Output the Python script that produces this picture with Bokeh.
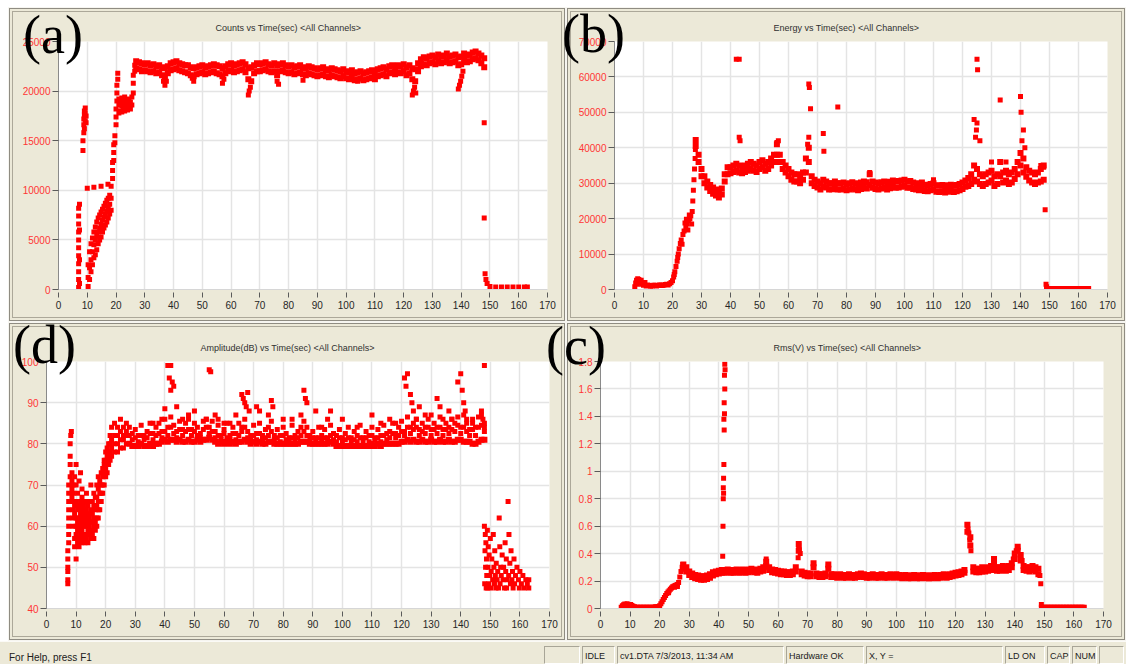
from bokeh.plotting import figure
from bokeh.models import FixedTicker, Div, Spacer, Range1d
from bokeh.layouts import row, column
from bokeh.embed import file_html
from bokeh.resources import INLINE

# ---------------------------------------------------------------- shared
time_ticks = [0, 10, 20, 30, 40, 50, 60, 70, 80, 90, 100, 110, 120, 130, 140, 150, 160, 170]
time_labels = ["0", "10", "20", "30", "40", "50", "60", "70", "80", "90",
               "100", "110", "120", "130", "140", "150", "160", "170"]

# acquisition idle after the test stops (seconds)
idle_t = [149.0, 149.5, 150.0, 150.5, 151.0, 151.5, 152.0, 152.5, 153.0, 153.5,
          154.0, 154.5, 155.0, 155.5, 156.0, 156.5, 157.0, 157.5, 158.0, 158.5,
          159.0, 159.5, 160.0, 160.5, 161.0, 161.5, 162.0, 162.5, 163.0, 163.5]

# ---------------------------------------------------------------- Counts
counts_ticks = [0, 5000, 10000, 15000, 20000, 25000]
counts_labels = ["0", "5000", "10000", "15000", "20000", "25000"]
counts_band_t = list(range(27, 149))
counts_hi = [23000, 22900, 22800, 22700, 22800, 22600, 22700, 22500, 22600, 22400,
             22300, 22500, 22800, 22900, 23000, 22800, 22700, 22600, 22600, 22400,
             22300, 22400, 22500, 22600, 22400, 22500, 22600, 22700, 22600, 22500,
             22300, 22500, 22700, 22800, 22600, 22700, 22800, 22900, 22700, 22300,
             22400, 22600, 22800, 22700, 22800, 22900, 22700, 22600, 22800, 22600,
             22700, 22800, 22600, 22500, 22600, 22400, 22500, 22600, 22400, 22300,
             22500, 22400, 22300, 22200, 22300, 22400, 22200, 22100, 22300, 22200,
             22100, 22000, 22200, 22000, 21900, 22100, 21800, 21900, 22000, 21800,
             21900, 22000, 22100, 21900, 22200, 22300, 22400, 22200, 22500, 22600,
             22400, 22600, 22500, 22700, 22400, 22600, 22300, 22200, 22800, 23200,
             23400, 23300, 23500, 23600, 23400, 23700, 23500, 23600, 23800, 23500,
             23600, 23700, 23400, 23500, 23800, 23600, 23700, 23900, 24000, 23800,
             23600, 23300]
counts_lo = [22300, 22200, 22000, 22100, 22000, 21900, 22000, 21800, 21900, 21600,
             21400, 21800, 22100, 22200, 22300, 22100, 22000, 21900, 21800, 21600,
             21500, 21700, 21800, 21900, 21700, 21800, 21900, 22000, 21800, 21700,
             21500, 21800, 22000, 22100, 21900, 22000, 22100, 22200, 21900, 21200,
             21000, 21800, 22000, 22000, 22100, 22200, 22000, 21900, 22000, 21600,
             22000, 22100, 21900, 21800, 21900, 21700, 21800, 21900, 21700, 21600,
             21800, 21700, 21600, 21500, 21600, 21700, 21500, 21400, 21600, 21500,
             21400, 21300, 21500, 21300, 21200, 21400, 21100, 21200, 21300, 21100,
             21200, 21300, 21400, 21200, 21500, 21600, 21700, 21500, 21800, 21900,
             21700, 21900, 21800, 22000, 21600, 21800, 21200, 21000, 22000, 22500,
             22700, 22600, 22800, 22900, 22700, 23000, 22800, 22900, 23100, 22800,
             22900, 23000, 22600, 22700, 23100, 22900, 23000, 23200, 23300, 23100,
             22800, 22400]
counts_ramp = [
    (7.0, 200), (7.0, 1000), (7.0, 1800), (7.0, 2600), (7.0, 3400), (7.0, 4200), (7.0, 5000),
    (7.0, 5800), (7.0, 6600), (7.0, 7400), (7.0, 8200), (7.3, 600), (7.3, 3000), (7.3, 6000),
    (7.3, 8600), (8.5, 14000), (8.5, 15000), (8.8, 15800), (8.8, 16600), (8.8, 17200),
    (9.0, 17600), (9.0, 18000), (9.0, 16200), (9.3, 17000), (9.3, 17800), (9.3, 18300),
    (9.6, 16800), (9.6, 17500), (10.0, 10200), (12.3, 10300), (14.8, 10400), (17.2, 10600),
    (10.3, 300), (10.3, 1200), (10.3, 2500), (10.8, 1000), (10.8, 2200), (10.8, 3800),
    (11.3, 1800), (11.3, 3000), (11.3, 4600), (11.8, 2500), (11.8, 3800), (11.8, 5200),
    (12.3, 3200), (12.3, 4500), (12.3, 5800), (12.8, 3500), (12.8, 5000), (12.8, 6300),
    (13.3, 4000), (13.3, 5400), (13.3, 6800), (13.8, 4600), (13.8, 5800), (13.8, 7200),
    (14.3, 5000), (14.3, 6200), (14.3, 7500), (14.8, 5300), (14.8, 6600), (14.8, 7800),
    (15.3, 5800), (15.3, 7000), (15.3, 8100), (15.8, 6200), (15.8, 7300), (15.8, 8400),
    (16.3, 6500), (16.3, 7600), (16.3, 8700), (16.8, 6800), (16.8, 7900), (16.8, 9000),
    (17.3, 7200), (17.3, 8300), (17.3, 9200), (17.8, 7600), (17.8, 8600), (17.8, 9500),
    (18.3, 8000), (18.3, 9200), (18.3, 10400), (18.8, 11200), (18.8, 12000), (18.8, 12800),
    (19.2, 13000), (19.2, 13800), (19.2, 14600), (19.6, 14800), (19.6, 15500),
    (20.0, 16600), (20.0, 17400), (20.0, 18200), (20.3, 19000), (20.3, 19800), (20.3, 20600),
    (20.6, 21200), (20.6, 21800), (21.0, 17800), (21.0, 18600), (21.0, 19200),
    (21.5, 18000), (21.5, 18800), (22.0, 17900), (22.0, 18500), (22.0, 19300),
    (22.5, 18200), (22.5, 18900), (23.0, 18000), (23.0, 18700), (23.0, 19400),
    (23.5, 18300), (23.5, 19000), (24.0, 18100), (24.0, 18800), (24.0, 19200),
    (24.5, 18400), (24.5, 19100), (25.0, 18200), (25.0, 18900), (25.5, 18600), (25.5, 19400),
    (26.0, 19800), (26.0, 20800), (26.0, 21600), (26.5, 22000), (26.5, 22600),
]
counts_dips = [
    (36.5, 21000), (37.0, 20600), (37.5, 21000), (46.5, 21300), (47.0, 21000), (57.0, 20800),
    (57.5, 21200), (66.0, 19600), (66.3, 20000), (66.7, 20400), (76.0, 21000), (76.5, 20700),
    (85.0, 21100), (104.0, 21000), (123.0, 19600), (123.4, 20000), (123.8, 20400),
    (124.2, 19800), (139.0, 20200), (139.4, 20600), (139.8, 21000), (140.2, 21500), (140.6, 22000),
]
counts_stop = [
    (148.0, 16800), (148.0, 7200), (148.3, 1600), (148.6, 1000), (149.0, 600), (150.0, 300),
    (152.0, 250), (154.0, 250), (156.0, 250), (158.0, 250), (160.0, 250), (162.0, 250), (163.0, 250),
]

# ---------------------------------------------------------------- Energy
energy_ticks = [0, 10000, 20000, 30000, 40000, 50000, 60000, 70000]
energy_labels = ["0", "10000", "20000", "30000", "40000", "50000", "60000", "70000"]
energy_band_t = list(range(28, 149))
energy_hi = [42200, 38000, 34000, 32000, 30500, 29500, 28800, 28200, 27800, 28500,
             32500, 34500, 34500, 35000, 35500, 35000, 34500, 35000, 35500, 36000,
             35500, 35000, 36000, 36500, 35500, 36000, 37000, 38000, 41000, 38000,
             36000, 35000, 34000, 33000, 32500, 32500, 32000, 33000, 37000, 40000,
             32000, 31000, 30500, 30000, 31000, 30500, 30000, 30000, 30500, 30000,
             30000, 30200, 29800, 30000, 30300, 30000, 29800, 30200, 30500, 30300,
             32500, 30500, 30200, 30000, 30300, 30500, 30000, 30400, 30800, 30500,
             30600, 30800, 31000, 30500, 30600, 30200, 30000, 29800, 30200, 29600,
             29500, 29800, 30000, 29400, 29300, 29500, 29200, 29400, 29600, 29300,
             29500, 29800, 30200, 30800, 31500, 32500, 35000, 34000, 32500, 32000,
             32500, 33000, 33500, 32000, 32500, 36000, 33000, 33500, 32500, 33000,
             34000, 36000, 38500, 37000, 34500, 33500, 33000, 32500, 33000, 34000,
             35000]
energy_lo = [40500, 36000, 32000, 30000, 28800, 27800, 27000, 26500, 26000, 26800,
             30500, 32500, 32800, 33200, 33500, 33000, 32800, 33200, 33500, 34000,
             33500, 33200, 34000, 34500, 33500, 34000, 35000, 36000, 38000, 36000,
             34000, 33000, 32000, 31000, 30500, 30500, 30000, 31000, 33000, 36000,
             30000, 29200, 28800, 28200, 29000, 28800, 28200, 28300, 28600, 28200,
             28200, 28400, 28000, 28200, 28500, 28200, 28000, 28400, 28700, 28500,
             29500, 28700, 28400, 28200, 28500, 28700, 28200, 28600, 29000, 28700,
             28800, 29000, 29200, 28700, 28800, 28400, 28200, 28000, 28400, 27800,
             27700, 28000, 28200, 27600, 27500, 27700, 27400, 27600, 27800, 27500,
             27700, 28000, 28400, 29000, 29200, 29800, 31000, 30500, 29800, 29200,
             29800, 30200, 30800, 29200, 29800, 32000, 30200, 30800, 29800, 30200,
             31200, 32500, 35000, 33000, 31800, 30800, 30200, 29800, 30200, 30500,
             31000]
energy_ramp = [
    (7.0, 800), (7.3, 1800), (7.6, 2600), (7.8, 1500), (8.0, 3000), (8.4, 2800), (8.6, 1800),
    (8.8, 2200), (9.2, 2600), (9.4, 1500), (9.6, 1800), (10.0, 1200), (10.5, 2000), (11.0, 1000),
    (11.5, 1300), (12.0, 1100), (12.5, 900), (13.0, 1000), (13.5, 1200), (14.0, 1200),
    (14.5, 1000), (15.0, 1100), (15.5, 1300), (16.0, 1300), (16.5, 1100), (17.0, 1200),
    (17.5, 1400), (18.0, 1500), (18.5, 1300), (19.0, 1600), (19.5, 2000), (20.0, 2500),
    (20.4, 3500), (20.6, 4200), (20.8, 5000), (21.2, 6500), (21.6, 8000), (21.8, 9000),
    (22.0, 10000), (22.3, 11500), (22.7, 13000), (23.0, 14000), (23.3, 12800), (23.6, 15500),
    (24.0, 16500), (24.3, 18800), (24.6, 17500), (24.8, 19800), (25.0, 18500), (25.3, 16800),
    (25.6, 19500), (25.8, 21000), (26.0, 20000), (26.3, 20800), (26.6, 18500), (26.8, 22000),
    (27.0, 25000), (27.2, 28000), (27.4, 31000), (27.6, 34000), (27.8, 37000), (27.9, 39500),
]
energy_spikes = [
    (42.0, 65000), (43.0, 65000), (43.0, 43000), (43.3, 42000), (56.0, 41500), (56.5, 42000),
    (66.6, 41000), (67.0, 43000), (67.0, 58000), (67.2, 57000), (67.6, 51000), (72.0, 44000),
    (72.2, 39000), (77.0, 51500), (88.0, 33000), (110.0, 31000), (124.0, 48000), (124.5, 43000),
    (124.8, 45000), (125.0, 47000), (125.0, 65000), (125.2, 62000), (126.0, 42000),
    (130.0, 36000), (133.0, 53500), (135.0, 36000), (140.0, 54500), (140.2, 50000),
    (140.5, 42000), (141.0, 45000), (141.5, 40000), (147.0, 35000), (148.0, 34500),
]
energy_stop = [(148.5, 22500), (148.8, 1500), (149.0, 800)]
energy_idle = 300

# ---------------------------------------------------------------- Amplitude
amp_ticks = [40, 50, 60, 70, 80, 90, 100]
amp_labels = ["40", "50", "60", "70", "80", "90", "100"]
amp_band_t = list(range(28, 149))
amp_hi = [84, 82.5, 83.5, 82, 84.5, 82, 83, 85, 82.5, 84,
          85, 83, 86, 84, 86.5, 84.5, 83, 85.5, 83.5, 85,
          86, 83.5, 85, 84, 82.5, 85.5, 86, 84, 85.5, 83,
          84.5, 82, 83.5, 85, 82, 84, 82.5, 85, 84, 86,
          83, 82, 84.5, 82.5, 85, 82, 83.5, 84, 85.5, 82,
          83.5, 82, 84, 82.5, 81.5, 84.5, 82, 83, 84, 85.5,
          84, 82, 83, 81.5, 84, 82, 83.5, 81.5, 84.5, 82.5,
          82, 83.5, 81.5, 82.5, 84, 81.5, 83, 82, 84.5, 81.5,
          83, 82, 84, 81.5, 83.5, 82, 84.5, 82.5, 83, 85,
          82.5, 84, 85.5, 83, 86.5, 84, 85, 86, 83.5, 85,
          84, 86, 83.5, 85, 84, 86.5, 83.5, 85, 84, 86,
          85, 86.5, 84, 87, 85, 83.5, 86, 84, 86.5, 87,
          85]
amp_mid = [82, 81, 81.5, 80.5, 82, 81, 81.5, 82.5, 81, 82,
           82.5, 81.5, 83, 82, 84, 82.5, 81.5, 83.5, 82, 83,
           83.5, 82, 83, 82, 81.5, 83.5, 84, 82.5, 83, 81.5,
           82, 81, 82.5, 81.5, 81, 82.5, 81, 82, 83, 84,
           81.5, 81, 82, 81, 82.5, 81, 81.5, 82, 83, 81,
           81.5, 80.5, 82, 81, 80.5, 81.5, 81, 81.5, 82, 83,
           82, 81, 81.5, 80.5, 81.5, 81, 81.5, 80.5, 82, 81,
           80.5, 81.5, 80.5, 81, 81.5, 80.5, 81, 80.5, 81.5, 80.5,
           81.5, 80.5, 82, 81, 81.5, 80.5, 82, 81, 81.5, 82.5,
           81.5, 82, 83, 82, 84, 82.5, 83.5, 84, 82, 83,
           82.5, 84, 82, 83.5, 82.5, 84, 82, 83.5, 82.5, 83.5,
           83, 84.5, 82.5, 84, 83, 82, 83.5, 82, 84, 84.5,
           83]
amp_lo = [80, 79.5, 79.5, 79.5, 80, 79.5, 79.5, 80, 79.5, 80,
          80, 80.5, 81, 80.5, 81, 81, 80.5, 81, 80.5, 80.5,
          81, 80.5, 80.5, 81, 80.5, 81, 81, 81.5, 81, 80.5,
          80, 80.5, 80, 80.5, 80, 80.5, 80, 80.5, 80.5, 81,
          80.5, 80, 80.5, 80, 80.5, 80, 80, 80.5, 80.5, 80,
          80, 80, 80, 80, 80, 80, 80, 80, 80.5, 80.5,
          80.5, 80, 80, 80, 80, 80, 80, 80, 80.5, 80,
          79.5, 79.5, 79.5, 79.5, 79.5, 79.5, 79.5, 79.5, 79.5, 79.5,
          79.5, 79.5, 80, 79.5, 80, 79.5, 80, 80, 80, 80,
          80, 80, 80.5, 80.5, 81, 80.5, 81, 80.5, 80.5, 81,
          80.5, 80.5, 81, 80.5, 80.5, 81, 80.5, 80.5, 81, 80.5,
          80.5, 81, 81, 80.5, 80.5, 80.5, 80, 80, 80.5, 81,
          81]
amp_ramp = [
    (7.2, 46), (7.2, 47), (7.2, 49), (7.2, 50), (7.2, 52), (7.2, 54),
    (7.5, 56), (7.5, 58), (7.5, 60), (7.5, 62), (7.5, 64), (7.5, 66), (7.5, 68), (7.5, 70),
    (8.0, 72), (8.0, 75), (8.0, 77), (8.0, 80), (8.2, 82), (8.4, 83),
    (8.6, 67), (8.6, 69), (8.6, 71), (8.6, 73),
    (9.0, 60), (9.0, 62), (9.0, 64), (9.0, 66), (9.0, 68), (9.0, 70),
    (9.5, 55), (9.5, 57), (9.5, 63), (9.5, 65), (9.5, 72),
    (10.0, 52), (10.0, 58), (10.0, 60), (10.0, 62), (10.0, 66), (10.0, 70), (10.0, 75),
    (10.5, 56), (10.5, 59), (10.5, 61), (10.5, 64), (10.5, 68),
    (11.0, 55), (11.0, 57), (11.0, 60), (11.0, 62), (11.0, 65), (11.0, 71),
    (11.5, 58), (11.5, 60), (11.5, 63), (11.5, 66), (11.5, 73),
    (12.0, 56), (12.0, 59), (12.0, 61), (12.0, 64), (12.0, 67), (12.0, 69),
    (12.5, 57), (12.5, 60), (12.5, 62), (12.5, 65),
    (13.0, 56), (13.0, 58), (13.0, 61), (13.0, 63), (13.0, 66),
    (13.5, 57), (13.5, 60), (13.5, 62), (13.5, 64), (13.5, 68),
    (14.0, 56), (14.0, 59), (14.0, 61), (14.0, 63), (14.0, 65),
    (14.5, 58), (14.5, 60), (14.5, 62), (14.5, 66),
    (15.0, 57), (15.0, 59), (15.0, 61), (15.0, 64), (15.0, 70),
    (15.5, 58), (15.5, 61), (15.5, 63), (15.5, 66),
    (16.0, 57), (16.0, 60), (16.0, 62), (16.0, 65), (16.0, 68),
    (16.5, 59), (16.5, 61), (16.5, 64), (16.5, 67),
    (17.0, 60), (17.0, 62), (17.0, 65), (17.0, 67), (17.0, 70),
    (17.5, 62), (17.5, 64), (17.5, 66), (17.5, 69), (17.5, 72),
    (18.0, 64), (18.0, 66), (18.0, 68), (18.0, 71),
    (18.5, 66), (18.5, 68), (18.5, 70), (18.5, 73),
    (19.0, 68), (19.0, 70), (19.0, 72), (19.0, 74),
    (19.5, 70), (19.5, 73), (19.5, 75), (19.5, 76),
    (20.0, 72), (20.0, 74), (20.0, 76), (20.0, 78),
    (20.5, 73), (20.5, 75), (20.5, 77), (20.5, 79),
    (21.0, 75), (21.0, 77), (21.0, 78), (21.0, 80),
    (21.5, 76), (21.5, 78), (21.5, 80), (21.5, 82),
    (22.0, 77), (22.0, 79), (22.0, 81), (22.0, 84),
    (23.0, 78), (23.0, 80), (23.0, 82), (23.0, 85),
    (24.0, 78), (24.0, 80), (24.0, 82), (24.0, 84),
    (25.0, 79), (25.0, 81), (25.0, 83), (25.0, 86),
    (26.0, 79), (26.0, 81), (26.0, 82), (26.0, 84),
    (27.0, 80), (27.0, 82), (27.0, 83), (27.0, 85),
]
amp_spikes = [
    (36, 85), (39, 86), (40, 88.5), (41, 99), (41.5, 96), (42, 99), (42, 93), (42.5, 95), (43, 94),
    (44, 89), (46, 86), (48, 87), (50, 88), (54, 86), (55, 98), (55.5, 97.5), (57, 87), (58, 86),
    (60, 85), (62, 85), (64, 87), (66, 92), (66.5, 91), (67, 90), (67.5, 89), (68, 92.5),
    (68.5, 88), (71, 89), (72, 88), (75, 87), (76, 90.5), (76.5, 89), (80, 86), (83, 86),
    (86, 87), (87, 93), (87.5, 91), (88, 90), (91, 88), (93, 84), (95, 86), (96, 88),
    (100, 86), (105, 84), (110, 87), (113, 85), (116, 86), (118, 85), (121, 96), (121.5, 94),
    (122, 97), (123, 92), (123.5, 90), (124, 88), (125, 86), (126, 89), (128, 87), (130, 87),
    (132, 91), (133, 89), (134, 86), (136, 88), (137, 86), (139, 95), (140, 97), (140.5, 93),
    (141, 90), (141.5, 88), (142, 86), (144, 85), (147, 88), (147.5, 86), (148, 99), (148, 84),
]
amp_stop = [
    (148.0, 60), (148.3, 58), (148.5, 56), (148.2, 54), (148.7, 52), (148.4, 50), (148.8, 48),
    (148.1, 46), (148.6, 45), (149.0, 59), (149.3, 55), (149.6, 53), (149.2, 50), (149.8, 48),
    (149.5, 46), (149.1, 45), (150.0, 57), (150.5, 52), (150.3, 49), (150.8, 47), (150.2, 45),
    (151.0, 58), (151.5, 54), (151.2, 50), (151.7, 48), (151.4, 46), (151.9, 45),
    (152.0, 51), (152.5, 49), (152.3, 47), (152.8, 45), (153.0, 62), (153.2, 55), (153.5, 50),
    (153.7, 48), (153.3, 46), (154.0, 53), (154.5, 50), (154.3, 47), (154.8, 45),
    (155.0, 56), (155.4, 52), (155.2, 49), (155.7, 47), (155.5, 45), (156.0, 66), (156.3, 58),
    (156.6, 51), (156.2, 48), (156.8, 46), (157.0, 54), (157.5, 49), (157.3, 47), (157.7, 45),
    (158.0, 52), (158.5, 48), (158.2, 46), (159.0, 50), (159.5, 47), (159.8, 45),
    (160.0, 49), (160.5, 46), (161.0, 48), (161.5, 45), (162.0, 47), (162.5, 46),
    (163.0, 45), (163.0, 47),
]

# ---------------------------------------------------------------- Rms
rms_ticks = [0, 0.2, 0.4, 0.6, 0.8, 1, 1.2, 1.4, 1.6, 1.8]
rms_labels = ["0", "0.2", "0.4", "0.6", "0.8", "1", "1.2", "1.4", "1.6", "1.8"]
rms_band_t = list(range(28, 149))
rms_hi = [0.32, 0.30, 0.27, 0.255, 0.245, 0.24, 0.235, 0.235, 0.24, 0.25,
          0.265, 0.27, 0.275, 0.28, 0.28, 0.285, 0.28, 0.28, 0.285, 0.28,
          0.285, 0.28, 0.285, 0.29, 0.285, 0.28, 0.29, 0.30, 0.34, 0.30,
          0.285, 0.28, 0.275, 0.27, 0.27, 0.265, 0.265, 0.27, 0.30, 0.47,
          0.27, 0.26, 0.255, 0.255, 0.33, 0.255, 0.25, 0.25, 0.255, 0.32,
          0.25, 0.25, 0.245, 0.25, 0.245, 0.245, 0.25, 0.245, 0.245, 0.25,
          0.255, 0.25, 0.245, 0.245, 0.25, 0.245, 0.245, 0.25, 0.245, 0.245,
          0.25, 0.245, 0.25, 0.245, 0.24, 0.245, 0.24, 0.24, 0.245, 0.24,
          0.24, 0.245, 0.24, 0.24, 0.24, 0.245, 0.24, 0.245, 0.25, 0.245,
          0.25, 0.255, 0.26, 0.265, 0.27, 0.28, 0.61, 0.52, 0.30, 0.29,
          0.29, 0.30, 0.295, 0.30, 0.31, 0.36, 0.30, 0.30, 0.31, 0.30,
          0.31, 0.33, 0.40, 0.45, 0.39, 0.31, 0.30, 0.30, 0.31, 0.30,
          0.29]
rms_lo = [0.29, 0.27, 0.245, 0.23, 0.22, 0.215, 0.21, 0.21, 0.215, 0.225,
          0.24, 0.25, 0.255, 0.26, 0.26, 0.265, 0.26, 0.26, 0.265, 0.26,
          0.265, 0.26, 0.265, 0.27, 0.265, 0.26, 0.27, 0.275, 0.31, 0.28,
          0.265, 0.26, 0.255, 0.25, 0.25, 0.245, 0.245, 0.25, 0.27, 0.42,
          0.25, 0.24, 0.235, 0.235, 0.30, 0.235, 0.23, 0.23, 0.235, 0.29,
          0.23, 0.23, 0.225, 0.23, 0.225, 0.225, 0.23, 0.225, 0.225, 0.23,
          0.235, 0.23, 0.225, 0.225, 0.23, 0.225, 0.225, 0.23, 0.225, 0.225,
          0.23, 0.225, 0.23, 0.225, 0.22, 0.225, 0.22, 0.22, 0.225, 0.22,
          0.22, 0.225, 0.22, 0.22, 0.22, 0.225, 0.22, 0.225, 0.23, 0.225,
          0.23, 0.235, 0.24, 0.245, 0.25, 0.26, 0.56, 0.46, 0.27, 0.265,
          0.265, 0.27, 0.27, 0.275, 0.28, 0.33, 0.275, 0.275, 0.28, 0.275,
          0.28, 0.30, 0.36, 0.42, 0.35, 0.28, 0.275, 0.27, 0.28, 0.27,
          0.25]
rms_ramp = [
    (7.0, 0.010), (7.2, 0.005), (7.4, 0.020), (7.8, 0.028), (8.0, 0.012), (8.2, 0.032),
    (8.6, 0.030), (9.0, 0.034), (9.0, 0.015), (9.4, 0.030), (9.8, 0.028), (10.0, 0.012),
    (10.2, 0.030), (10.6, 0.022), (11.0, 0.016), (11.5, 0.012), (12.0, 0.010), (12.5, 0.010),
    (13.0, 0.010), (13.5, 0.010), (14.0, 0.010), (14.5, 0.010), (15.0, 0.010), (15.5, 0.010),
    (16.0, 0.010), (16.5, 0.010), (17.0, 0.010), (17.5, 0.010), (18.0, 0.010), (18.5, 0.012),
    (19.0, 0.012), (19.5, 0.015), (20.0, 0.020), (20.4, 0.035), (20.8, 0.050), (21.2, 0.065),
    (21.6, 0.080), (22.0, 0.095), (22.4, 0.110), (22.8, 0.120), (23.0, 0.115), (23.2, 0.130),
    (23.6, 0.140), (24.0, 0.150), (24.4, 0.158), (24.8, 0.163), (25.0, 0.155), (25.2, 0.168),
    (25.6, 0.172), (26.0, 0.175), (26.0, 0.160), (26.4, 0.190), (26.8, 0.230), (27.2, 0.270),
    (27.6, 0.300), (27.8, 0.320),
]
rms_spikes = [
    (41.3, 0.38), (41.4, 0.60), (41.5, 0.80), (41.6, 0.84), (41.5, 0.88), (41.6, 0.95),
    (41.7, 1.05), (41.8, 1.30), (41.7, 1.38), (41.9, 1.42), (41.8, 1.50), (42.0, 1.60),
    (41.9, 1.70), (42.1, 1.74), (42.0, 1.78), (56.0, 0.36), (66.8, 0.37), (67.0, 0.46),
    (67.2, 0.43), (67.5, 0.40), (72.0, 0.32), (77.0, 0.31), (124.0, 0.61), (124.2, 0.58),
    (124.5, 0.55), (124.8, 0.50), (125.0, 0.46), (125.2, 0.42), (133.0, 0.36), (139.5, 0.36),
    (140.5, 0.42), (141.0, 0.44), (142.0, 0.39), (142.5, 0.35),
]
rms_stop = [(148.5, 0.24), (148.8, 0.18), (149.0, 0.03)]
rms_idle = 0.01

for hi, lo in ((counts_hi, counts_lo), (energy_hi, energy_lo), (rms_hi, rms_lo)):
    assert len(hi) == len(lo)
assert len(counts_hi) == len(counts_band_t)
assert len(energy_hi) == len(energy_band_t) == len(rms_hi)
assert len(amp_hi) == len(amp_mid) == len(amp_lo) == len(amp_band_t)

# ---------------------------------------------------------------- styling
RED = "#FF0000"
BEIGE = "#ECE9D8"
UI_FONT = "Liberation Sans"
SERIF = "Liberation Serif"
WINDOW_CSS = {
    "background-color": BEIGE,
    "box-shadow": ("inset 0 0 0 1px #f6f5f0, inset 0 0 0 2px #8f8c82, "
                   "inset 0 0 0 4px #ece9d8, inset 0 0 0 5px #aca899"),
}


def unzip(pairs):
    return [a for a, _ in pairs], [b for _, b in pairs]


def panel(title, width, height, borders, title_left, y_range, y_ticks, y_labels):
    left, right, top, bottom = borders
    p = figure(width=width, height=height, x_range=Range1d(0, 170), y_range=Range1d(*y_range),
               output_backend="svg", toolbar_location=None, title=title,
               min_border_left=left, min_border_right=right,
               min_border_top=top, min_border_bottom=bottom)
    p.border_fill_color = None
    p.background_fill_color = "#FFFFFF"
    p.outline_line_color = None
    p.styles = WINDOW_CSS

    p.title.align = "left"
    p.title.offset = title_left
    p.title.text_font = UI_FONT
    p.title.text_font_size = "9px"
    p.title.text_font_style = "normal"
    p.title.text_color = "#303030"
    p.title.standoff = 17

    xt = FixedTicker(ticks=time_ticks)
    yt = FixedTicker(ticks=y_ticks)
    p.xaxis.ticker = xt
    p.yaxis.ticker = yt
    p.xgrid.ticker = xt
    p.ygrid.ticker = yt
    p.xaxis.major_label_overrides = dict(zip(time_ticks, time_labels))
    p.yaxis.major_label_overrides = dict(zip(y_ticks, y_labels))

    for g in (p.xgrid, p.ygrid):
        g.grid_line_color = "#E4E4E4"
        g.grid_line_width = 1.5

    p.yaxis.axis_line_color = "#8A8A8A"
    p.yaxis.major_tick_line_color = "#5A5A5A"
    p.yaxis.major_tick_out = 6
    p.yaxis.major_tick_in = 0
    p.yaxis.minor_tick_line_color = None
    p.yaxis.major_label_standoff = 2
    p.yaxis.major_label_text_color = "#FF3535"
    p.yaxis.major_label_text_font = UI_FONT
    p.yaxis.major_label_text_font_size = "10px"

    p.xaxis.axis_line_color = "#D6D6D6"
    p.xaxis.major_tick_line_color = "#5A5A5A"
    p.xaxis.major_tick_in = -3
    p.xaxis.major_tick_out = 8
    p.xaxis.minor_tick_line_color = None
    p.xaxis.major_label_standoff = 3
    p.xaxis.major_label_text_color = "#262626"
    p.xaxis.major_label_text_font = UI_FONT
    p.xaxis.major_label_text_font_size = "10px"
    return p


def dots(p, t, v, size=5):
    p.scatter(t, v, marker="square", size=size, fill_color=RED, line_color=None)


# ---------------------------------------------------------------- panels
p_counts = panel("Counts vs Time(sec) <All Channels>", 558, 315, (50, 19, 34, 33), 157,
                 (0, 25000), counts_ticks, counts_labels)
dots(p_counts, counts_band_t, counts_lo, 6)
dots(p_counts, counts_band_t, counts_hi, 6)
for pairs in (counts_ramp, counts_dips, counts_stop):
    dots(p_counts, *unzip(pairs))

p_energy = panel("Energy vs Time(sec) <All Channels>", 560, 315, (48, 19, 33, 32), 159,
                 (0, 70000), energy_ticks, energy_labels)
dots(p_energy, energy_band_t, energy_lo, 6)
dots(p_energy, energy_band_t, energy_hi, 6)
for pairs in (energy_ramp, energy_spikes, energy_stop):
    dots(p_energy, *unzip(pairs))
p_energy.scatter(idle_t, energy_idle, marker="square", size=5, fill_color=RED, line_color=None)

p_amp = panel("Amplitude(dB) vs Time(sec) <All Channels>", 558, 319, (38, 17, 37, 32), 154,
              (40, 100), amp_ticks, amp_labels)
dots(p_amp, amp_band_t, amp_lo, 6)
dots(p_amp, amp_band_t, amp_mid, 5)
dots(p_amp, amp_band_t, amp_hi, 5)
for pairs in (amp_ramp, amp_spikes, amp_stop):
    dots(p_amp, *unzip(pairs))

p_rms = panel("Rms(V) vs Time(sec) <All Channels>", 560, 319, (34, 23, 39, 33), 173,
              (0, 1.8), rms_ticks, rms_labels)
dots(p_rms, rms_band_t, rms_lo, 6)
dots(p_rms, rms_band_t, rms_hi, 6)
for pairs in (rms_ramp, rms_spikes, rms_stop):
    dots(p_rms, *unzip(pairs))
p_rms.scatter(idle_t, rms_idle, marker="square", size=5, fill_color=RED, line_color=None)

# ---------------------------------------------------------------- status bar and panel tags
status_cells = [
    (544, 38, ""), (582, 35, "IDLE"), (617, 169, "cv1.DTA  7/3/2013, 11:34 AM"),
    (786, 80, "Hardware OK"), (866, 139, "X, Y ="), (1005, 42, "LD ON"),
    (1047, 25, "CAP"), (1072, 27, "NUM"), (1099, 27, ""),
]
cells_html = "".join(
    f'<div style="position:absolute;left:{x}px;top:5px;width:{w - 2}px;height:18px;'
    f'border:1px solid;border-color:#a8a597 #ffffff #ffffff #a8a597;box-sizing:border-box;'
    f'padding:3px 0 0 2px;white-space:nowrap;font-size:9px">{txt}</div>'
    for x, w, txt in status_cells
)
# (left, top, text) of the large panel letters
panel_tags = [(23, 8, "(a)"), (562, 7, "(b)"), (13, 318, "(d)"), (546, 319, "(c)")]
tags_html = "".join(
    f'<span style="position:fixed;left:{x}px;top:{y}px;font-family:\'{SERIF}\';font-size:54px;'
    f'line-height:54px;color:#000;z-index:50;pointer-events:none;white-space:nowrap">{txt}</span>'
    for x, y, txt in panel_tags
)
status_html = (
    f'<div style="position:relative;width:1126px;height:23px;background:{BEIGE};'
    f'font-family:\'{UI_FONT}\';font-size:10px;color:#202020;overflow:visible">'
    f'<div style="position:absolute;left:0;top:0;width:1126px;height:1px;background:#fbfaf6"></div>'
    f'<span style="position:absolute;left:9px;top:10px">For Help, press F1</span>'
    f'{cells_html}{tags_html}</div>'
)
status = Div(text=status_html, width=1126, height=23, margin=0)

layout = column(
    Spacer(width=1126, height=7, margin=0),
    row(Spacer(width=8, height=315, margin=0), p_counts, p_energy, spacing=0),
    row(Spacer(width=8, height=319, margin=0), p_amp, p_rms, spacing=0),
    status,
    spacing=0,
)

open("out.html", "w").write(file_html(layout, INLINE))
